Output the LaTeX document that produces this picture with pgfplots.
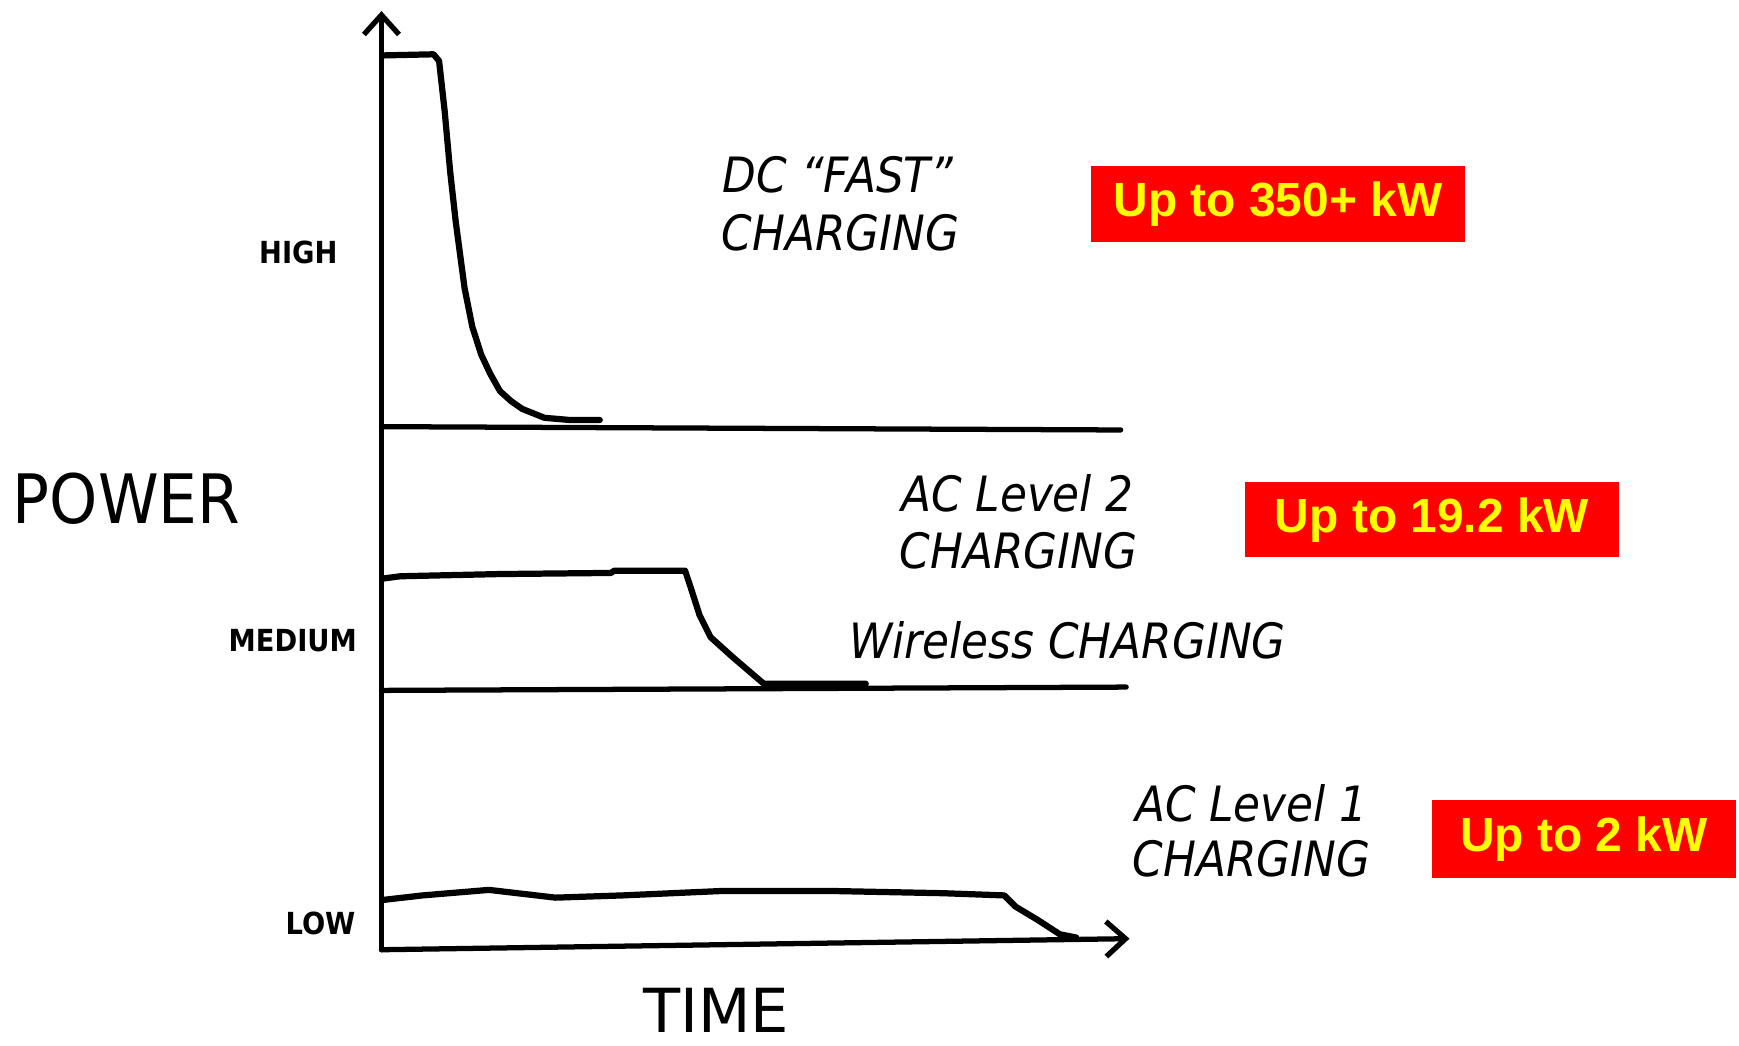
\documentclass[border=0pt]{standalone}
\usepackage{fontspec}
\setmainfont{DejaVu Sans}
\newfontfamily\hand{DejaVu Sans Condensed}
\newfontfamily\boxfont{Liberation Sans}
\usepackage{pgfplots}
\pgfplotsset{compat=1.18}
\usetikzlibrary{arrows.meta}
\definecolor{boxred}{RGB}{255,0,0}
\definecolor{boxyellow}{RGB}{255,255,0}

\begin{document}
\begin{tikzpicture}[
  lin/.style={black, solid, line width=1.35pt, line cap=round, line join=round},
  arr/.style={-{Straight Barb[length=5pt,width=9pt]}},
  lbl/.style={font=\hand\fontsize{12.5}{14}\selectfont\itshape},
  lvl/.style={font=\hand\bfseries\fontsize{7.8}{9}\selectfont},
  kw/.style={fill=boxred, text=boxyellow, inner sep=0pt,
    font=\boxfont\bfseries\fontsize{12.3}{14}\selectfont},
]
\begin{axis}[
  width=15.68cm, height=9.38cm, scale only axis,
  xmin=-343, xmax=1225, ymin=-83, ymax=855,
  hide axis, clip=false,
  cycle list={{black,solid,mark=none}},
]
\path (axis cs:-343,-83) rectangle (axis cs:1225,855);

% axes (hand drawn, slightly tilted)
\addplot[lin, arr, mark=none] coordinates {(0,-2) (675,8)};
\addplot[lin, arr, mark=none] coordinates {(0,-2) (0,845)};

% zero lines of the upper two panels
\addplot[lin, mark=none] coordinates {(0,470) (667,467)};
\addplot[lin, mark=none] coordinates {(0,232) (672,235)};

% DC fast charging
\addplot[lin, mark=none, line width=1.6pt] coordinates {(2,805) (47,806) (52,800) (57,755) (62,700) (67,655) (75,595)
  (82,560) (90,535) (98,518) (107,502) (117,493) (127,486) (147,478) (170,476) (197,476)};

% AC level 2 / wireless
\addplot[lin, mark=none, line width=1.6pt] coordinates {(2,333) (17,335) (107,337) (207,338) (210,340) (274,340) (279,325)
  (287,300) (297,280) (317,262) (345,238) (437,238)};

% AC level 1
\addplot[lin, mark=none, line width=1.6pt] coordinates {(2,43) (37,47) (97,52) (157,45) (217,47) (307,51) (407,51)
  (507,49) (562,47) (572,37) (592,25) (612,12) (627,9)};

% level labels
\node[lvl] at (axis cs:-75,627) {HIGH};
\node[lvl] at (axis cs:-80,277) {MEDIUM};
\node[lvl] at (axis cs:-55,22) {LOW};
\node[font=\hand\fontsize{17.5}{20}\selectfont] at (axis cs:-230,405) {POWER};
\node[font=\fontsize{15.6}{18}\selectfont] at (axis cs:302,-57) {TIME};

% curve labels
\node[lbl] at (axis cs:412,697) {DC “FAST”};
\node[lbl] at (axis cs:414,645) {CHARGING};
\node[lbl] at (axis cs:574,410) {AC Level 2};
\node[lbl] at (axis cs:575,358) {CHARGING};
\node[lbl] at (axis cs:619,277) {Wireless CHARGING};
\node[lbl] at (axis cs:785,130) {AC Level 1};
\node[lbl] at (axis cs:785,80) {CHARGING};

% power boxes
\node[kw, minimum width=3.38cm, minimum height=0.68cm] at (axis cs:809,671) {Up to 350+ kW};
\node[kw, minimum width=3.38cm, minimum height=0.68cm] at (axis cs:948,386) {Up to 19.2 kW};
\node[kw, minimum width=2.74cm, minimum height=0.70cm] at (axis cs:1085,98) {Up to 2 kW};
\end{axis}
\end{tikzpicture}
\end{document}
